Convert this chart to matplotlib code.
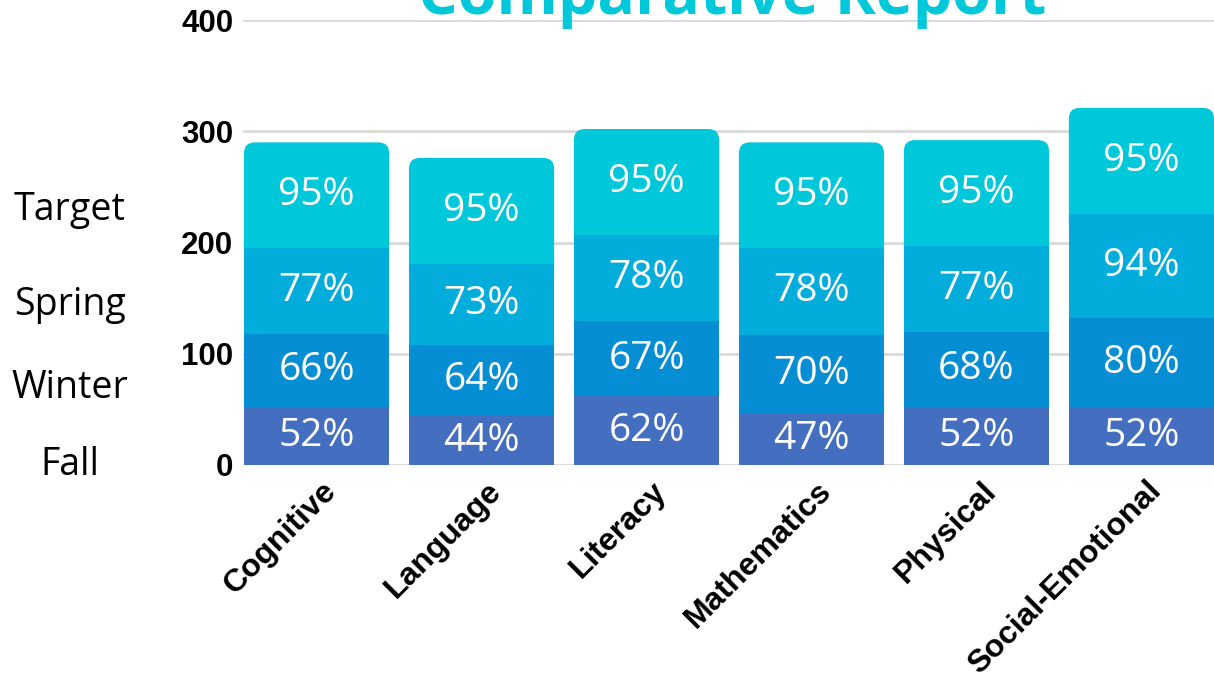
import matplotlib
matplotlib.use("Agg")
import matplotlib.pyplot as plt
import numpy as np
from matplotlib.patches import FancyBboxPatch
import matplotlib.transforms as mtransforms

categories = ["Cognitive", "Language", "Literacy", "Mathematics", "Physical", "Social-Emotional"]
series_names = ["Fall", "Winter", "Spring", "Target"]
fall = [52, 44, 62, 47, 52, 52]
winter = [66, 64, 67, 70, 68, 80]
spring = [77, 73, 78, 78, 77, 94]
target = [95, 95, 95, 95, 95, 95]
yticks = [0, 100, 200, 300, 400]
title = "Comparative Report"

colors = ["#446EBF", "#068ED4", "#02ADDC", "#00C8DB"]
TEXT_FONT = ["Open Sans", "DejaVu Sans"]

W, H = 1214, 675
fig = plt.figure(figsize=(W / 100, H / 100), dpi=100)
ax = fig.add_axes([243 / W, (H - 465) / H, 971 / W, 445 / H])

x = np.arange(len(categories))
width = 0.88
bottom = np.zeros(len(categories))
series = [fall, winter, spring, target]
for si, (vals, col) in enumerate(zip(series, colors)):
    bars = ax.bar(x, vals, width, bottom=bottom, color=col, zorder=2, linewidth=0)
    for b, v in zip(bars, vals):
        if si == len(series) - 1:
            # replace with rounded-top patch
            b.set_visible(False)
            ext = 20
            rp = FancyBboxPatch((b.get_x(), b.get_y() - ext), b.get_width(), b.get_height() + ext,
                                boxstyle="round,pad=0,rounding_size=0.065",
                                mutation_aspect=150, facecolor=col, edgecolor="none", zorder=1.9)
            ax.add_patch(rp)
        ax.text(b.get_x() + b.get_width() / 2, b.get_y() + b.get_height() / 2, f"{v}%",
                ha="center", va="center", color="white", fontsize=28,
                family=TEXT_FONT, zorder=3)
    bottom += np.array(vals)

ax.set_ylim(0, 400)
ax.set_xlim(-0.446, 5.44)
ax.set_yticks(yticks)
ax.set_yticklabels([str(t) for t in yticks], fontsize=22.5, fontweight="bold",
                   family="Liberation Sans")
ax.grid(axis="y", color="#d9d9d9", linewidth=2, zorder=0)
ax.set_axisbelow(True)
for s in ax.spines.values():
    s.set_visible(False)
ax.tick_params(axis="both", length=0)
ax.tick_params(axis="y", pad=7)
ax.set_xticks(x)
ax.set_xticklabels(categories, rotation=45, ha="right", va="top", rotation_mode="anchor",
                   fontsize=23, fontweight="bold", family="Liberation Sans")
offset = mtransforms.ScaledTranslation(5 / 100, -6 / 100, fig.dpi_scale_trans)
for lbl in ax.get_xticklabels():
    lbl.set_transform(lbl.get_transform() + offset)

# left legend-like labels
legend_y = {"Target": 210, "Spring": 305, "Winter": 388, "Fall": 465}
for name in series_names:
    fig.text(70 / W, 1 - legend_y[name] / H, name, ha="center", va="center",
             fontsize=27, family=TEXT_FONT, color="black")

fig.text(732 / W, 1 - 14 / H, title, ha="center", va="baseline", fontsize=45,
         fontweight="bold", color="#00C8DB", family=TEXT_FONT)

fig.savefig("out.png", dpi=100, facecolor="white")
